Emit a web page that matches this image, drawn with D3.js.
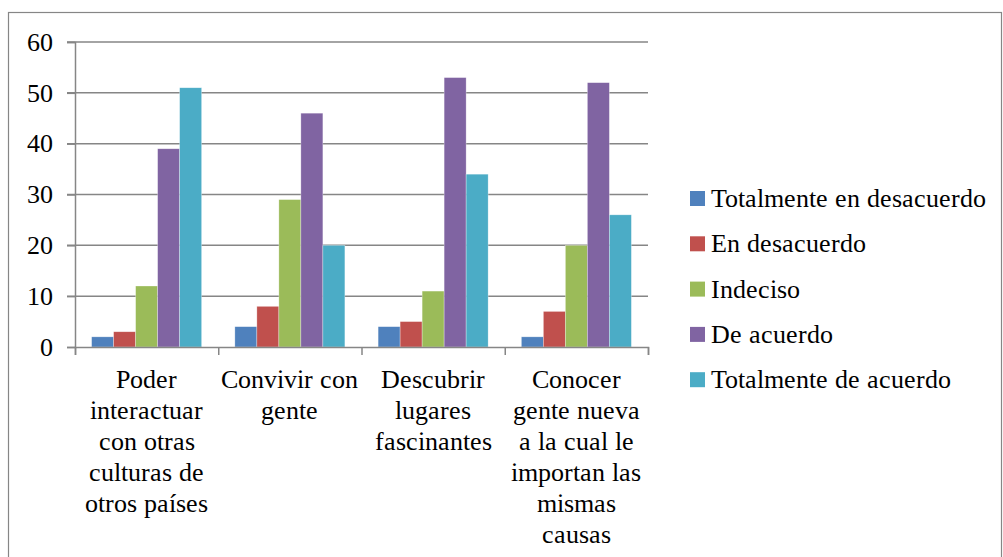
<!DOCTYPE html>
<html>
<head>
<meta charset="utf-8">
<script src="https://cdn.jsdelivr.net/npm/d3@7"></script>
<style>
  @font-face { font-family: "ChartSerif"; src: local("Liberation Serif"), local("LiberationSerif"), local("Times New Roman"); }
</style>
</head>
<body style="margin:0; background:#fff">
<div id="chart"></div>
<script>
// categories and series
var categories = [
  ["Poder", "interactuar", "con otras", "culturas de", "otros países"],
  ["Convivir con", "gente"],
  ["Descubrir", "lugares", "fascinantes"],
  ["Conocer", "gente nueva", "a la cual le", "importan las", "mismas", "causas"]
];
var seriesNames = ["Totalmente en desacuerdo", "En desacuerdo", "Indeciso", "De acuerdo", "Totalmente de acuerdo"];
var totalmenteDesacuerdo = [2, 4, 4, 2];
var enDesacuerdo = [3, 8, 5, 7];
var indeciso = [12, 29, 11, 20];
var deAcuerdo = [39, 46, 53, 52];
var totalmenteAcuerdo = [51, 20, 34, 26];
var yTicks = [0, 10, 20, 30, 40, 50, 60];

var colors = ["#4F81BD", "#C0504D", "#9BBB59", "#8064A2", "#4BACC6"];
var seriesValues = [totalmenteDesacuerdo, enDesacuerdo, indeciso, deAcuerdo, totalmenteAcuerdo];

var FONT = '"ChartSerif", "Times New Roman", "Liberation Serif", serif';

function drawChart() {
    var W = 1003, H = 557;
    var plotLeft = 75, plotRight = 648, plotTop = 42, plotBottom = 347;

    var svg = d3.select("#chart").append("svg")
        .attr("width", W)
        .attr("height", H);

    // outer chart frame
    svg.append("rect")
        .attr("x", 8.5).attr("y", 12.5)
        .attr("width", 993).attr("height", 560)
        .attr("fill", "none")
        .attr("stroke", "#868686")
        .attr("stroke-width", 1.2);

    var x0 = d3.scaleBand()
        .domain(d3.range(categories.length))
        .range([plotLeft, plotRight])
        .paddingInner(0.232)
        .paddingOuter(0.116);

    var x1 = d3.scaleBand()
        .domain(d3.range(seriesNames.length))
        .range([0, x0.bandwidth()]);

    var y = d3.scaleLinear()
        .domain([0, 60])
        .range([plotBottom, plotTop]);

    // gridlines
    svg.append("g")
        .selectAll("line")
        .data(yTicks.slice(1))
        .enter()
        .append("line")
        .attr("x1", plotLeft - 8).attr("x2", plotRight)
        .attr("y1", function(d) { return y(d); })
        .attr("y2", function(d) { return y(d); })
        .attr("stroke", "#868686")
        .attr("stroke-width", 1.5);

    // bars
    var groups = svg.append("g")
        .selectAll("g")
        .data(categories)
        .enter()
        .append("g")
        .attr("transform", function(d, i) { return "translate(" + x0(i) + ",0)"; });

    groups.selectAll("rect")
        .data(function(d, i) { return seriesValues.map(function(s, j) { return {s: j, v: s[i]}; }); })
        .enter()
        .append("rect")
        .attr("x", function(d) { return x1(d.s); })
        .attr("y", function(d) { return y(d.v); })
        .attr("width", x1.bandwidth())
        .attr("height", function(d) { return y(0) - y(d.v); })
        .attr("fill", function(d) { return colors[d.s]; })
        .attr("stroke", "#fff")
        .attr("stroke-opacity", 0.5)
        .attr("stroke-width", 0.6);

    // y axis
    var yAxis = svg.append("g")
        .attr("transform", "translate(" + plotLeft + ",0)")
        .call(d3.axisLeft(y).tickValues(yTicks).tickSize(8).tickPadding(14));
    yAxis.attr("font-family", FONT).attr("font-size", "26px");
    yAxis.select(".domain").attr("stroke", "#868686").attr("stroke-width", 1.5);
    yAxis.selectAll(".tick line").attr("stroke", "#868686").attr("stroke-width", 1.5);
    yAxis.selectAll(".tick text").attr("fill", "#000");

    // x axis with ticks between categories
    var xLin = d3.scaleLinear().domain([0, categories.length]).range([plotLeft, plotRight]);
    var xAxis = svg.append("g")
        .attr("transform", "translate(0," + plotBottom + ")")
        .call(d3.axisBottom(xLin).ticks(categories.length).tickSize(8).tickFormat(""));
    xAxis.select(".domain").attr("stroke", "#868686").attr("stroke-width", 1.5);
    xAxis.selectAll(".tick line").attr("stroke", "#868686").attr("stroke-width", 1.5);

    // category labels
    var labels = svg.append("g")
        .selectAll("text")
        .data(categories)
        .enter()
        .append("text")
        .attr("x", function(d, i) { return x0(i) + x0.bandwidth() / 2; })
        .attr("y", 388)
        .attr("text-anchor", "middle")
        .attr("font-size", "26px");
    labels.selectAll("tspan")
        .data(function(d) { return d; })
        .enter()
        .append("tspan")
        .attr("x", function() { return d3.select(this.parentNode).attr("x"); })
        .attr("dy", function(d, i) { return i === 0 ? 0 : 31; })
        .text(function(d) { return d; });

    // legend
    var legend = svg.append("g")
        .selectAll("g")
        .data(seriesNames)
        .enter()
        .append("g")
        .attr("transform", function(d, i) { return "translate(690," + (199 + i * 45.3) + ")"; });
    legend.append("rect")
        .attr("x", 0).attr("y", -8)
        .attr("width", 15).attr("height", 15)
        .attr("fill", function(d, i) { return colors[i]; });
    legend.append("text")
        .attr("x", 21)
        .attr("y", 8)
        .attr("font-size", "26px")
        .text(function(d) { return d; });

    svg.selectAll("text").attr("font-family", FONT);
}

drawChart();
</script>
</body>
</html>
